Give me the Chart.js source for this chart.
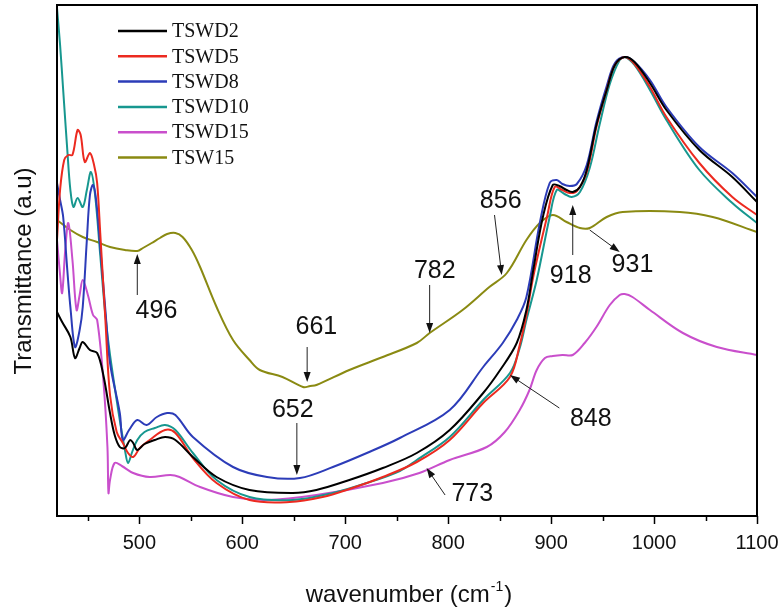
<!DOCTYPE html>
<html>
<head>
<meta charset="utf-8">
<script src="https://cdn.jsdelivr.net/npm/chart.js@4.4.0/dist/chart.umd.min.js"></script>
<style>
  html, body { margin: 0; padding: 0; background: #fff; }
</style>
</head>
<body>
<canvas id="ftir" width="783" height="610"></canvas>
<script>
// FTIR spectra, [wavenumber cm-1, transmittance a.u.]
const tswd2 = [[420,40.8],[425,38.8],[433,35.8],[437.5,31.6],[442,33.6],[445,34.8],[452,33.2],[459,32.6],[465,28.2],[471.5,20.6],[476,16.2],[481,13.8],[486,13.6],[491,15.2],[494,14.6],[498,13.2],[505,14.4],[515,15.2],[525,15.8],[535,15.2],[552,11.8],[575,7.8],[607,5.2],[649,4.6],[672,5.2],[704,7.2],[736.5,9.6],[769.5,12.6],[801.5,17.2],[834,24.6],[850.5,29.2],[866.6,34.6],[876,41.2],[883,49.6],[892,59.8],[901.6,66.2],[908,66],[915,65.2],[921,64.8],[928,65.8],[934.6,69.2],[944,78.2],[954,85.2],[962,90.2],[971.5,91.8],[981,90.8],[996,86.6],[1012,81.2],[1044,73.2],[1076,67.8],[1100,62.8]];
const tswd5 = [[420,55.2],[423,65.2],[427,71.2],[431,72.2],[435,72.2],[440,77.2],[443,76.2],[447,70.8],[452,72.6],[456,70.2],[459,66.6],[462,56.6],[467,39.2],[471.5,24.2],[478,16.8],[484,14.6],[489,12.6],[494,11.8],[500.5,13.6],[510,15.2],[525,17.2],[535,16.6],[552,11.6],[575,6.6],[607,3.2],[646,2.8],[678,3.8],[704,5.4],[736.5,7.8],[769.5,10.8],[801.5,15.2],[834,22.6],[860,27.8],[869.5,34.2],[876,40.2],[883,48.2],[896,59.8],[903.5,65.8],[911,65.2],[918,64.6],[925,65],[934.6,68.8],[944,77.8],[954,85.2],[962,90.2],[971.5,91.8],[981,90.4],[996,85.8],[1012,79.8],[1044,70.6],[1076,63.8],[1100,60.2]];
const tswd8 = [[420,66.6],[423,63.2],[426,59.8],[430,49.2],[433,41.8],[437.5,33.8],[442,37.2],[445,41.8],[449,55.2],[452,64.2],[455,66.2],[458,63.2],[462,53.8],[467,41.2],[471.5,30.6],[481,20.6],[484,15.2],[490,17.2],[498,19.2],[507,18.2],[517,19.8],[527,20.6],[535,20.2],[552,15.8],[591,9.8],[624,7.8],[656,7.6],[688,9.8],[721,12.6],[753,15.6],[801.5,21.2],[834,29.8],[853,34.6],[866.6,39.2],[876,43.8],[889,58.6],[898.6,66.6],[905.5,67.2],[911,66.4],[918,66],[925,66.4],[934.6,70.2],[944,78.8],[954,86],[962,90.6],[971.5,91.8],[981,90.8],[996,87.2],[1012,81.8],[1044,73.8],[1076,68.6],[1100,63.8]];
const tswd10 = [[420,101.6],[423,94.2],[426,85.2],[430,73.2],[433,65.2],[436,61.8],[440,63.6],[445,61.8],[449,65.2],[453,68.8],[457,64.2],[462,52.2],[467,40.2],[471.5,32.2],[481,19.2],[486,13.2],[489,10.6],[493,12.8],[498,15.2],[505,16.8],[515,17.6],[525,18.2],[535,17.2],[552,12.6],[575,7.2],[607,3.8],[649,3.2],[688,4.6],[721,6.6],[753,9],[769.5,11.2],[801.5,15.8],[834,23.2],[860,28.6],[869.5,33.6],[876,39.2],[886,47.2],[898.6,59.8],[905.5,65.2],[913,64.4],[920,63.8],[928,64.8],[937.5,69.6],[947,78.2],[957,86.4],[966.6,91.2],[971.5,91.8],[981,90.2],[996,85.2],[1012,79.2],[1044,69.2],[1076,62.6],[1100,58.6]];
const tswd15 = [[420,55.2],[423,48.2],[425,44.6],[428,53.2],[431,58.6],[435,51.2],[439,41.2],[442,44.2],[445,47.2],[450,44.2],[455,40.2],[459,39.2],[465,27.2],[469,13.8],[470,4.6],[471.5,7.2],[476,10.6],[483,10],[494,8.6],[510,7.8],[530,8.2],[539,7.8],[559,5.8],[591,3.8],[624,3.2],[672,4.2],[736.5,6.6],[772,8.6],[801.5,11.2],[837.5,13.8],[855,16.8],[869.5,21.2],[879,25.2],[886,29.2],[894,31.6],[901.6,32],[911,32.2],[921,32.2],[932.6,34.6],[944,37.8],[957,42.2],[966.6,44.2],[971.5,44.4],[979,43.8],[996,41.2],[1028,36.6],[1061,33.8],[1100,32.2]];
const tsw15 = [[420,59.2],[433,57.2],[445,55.8],[459,54.8],[471.5,53.8],[486,53.2],[498,53],[503.5,53.6],[512,54.6],[520,55.6],[527,56.4],[535,56.6],[542,55.8],[551,53.2],[559,49.8],[575,41.8],[591,35.2],[607,31.2],[617,29.2],[639,27.8],[659,25.8],[666,26],[672,26.2],[704,29.2],[736.5,31.8],[769.5,34.6],[782,36.6],[814,41.2],[840,45.8],[857,48.6],[876,55.2],[889,58.6],[901.6,60.2],[915,58.8],[928,57.6],[937.5,57.6],[954,59.8],[969.5,60.8],[1025,60.8],[1057,59.8],[1100,56.8]];

const seriesNames = ['TSWD2', 'TSWD5', 'TSWD8', 'TSWD10', 'TSWD15', 'TSW15'];
const seriesData = [tswd2, tswd5, tswd8, tswd10, tswd15, tsw15];
const seriesColors = ['#000000', '#ec2a20', '#2c3cb8', '#17978f', '#c94fcc', '#8a8a12'];

const xTicks = [450, 500, 550, 600, 650, 700, 750, 800, 850, 900, 950, 1000, 1050, 1100];

// band assignments: label, text centre, arrow tail -> arrow tip (data units)
const bandNotes = [
  { text: '496', at: [516.6, 40.9], from: [498, 44.2], to: [498, 52.4] },
  { text: '661', at: [672, 37.8], from: [663, 33.8], to: [663, 26.8] },
  { text: '652', at: [649, 21.2], from: [653, 18.6], to: [653, 8.2] },
  { text: '773', at: [823.4, 4.4], from: [797, 4.2], to: [779, 9.6] },
  { text: '782', at: [787, 49], from: [782, 46.2], to: [782, 36.6] },
  { text: '856', at: [851, 63], from: [845, 60.2], to: [852, 48.2] },
  { text: '918', at: [919, 48], from: [921, 52.2], to: [921, 62.2] },
  { text: '931', at: [979, 50.2], from: [937.5, 57.2], to: [966.6, 52.8] },
  { text: '848', at: [938.5, 19.4], from: [908, 21.6], to: [860, 28.2] }
];

const SANS = '"Liberation Sans", Arial, sans-serif';
const SERIF = '"Liberation Serif", "Times New Roman", serif';

function arrow(ctx, x1, y1, x2, y2) {
  const ang = Math.atan2(y2 - y1, x2 - x1);
  const len = 10, half = 3.5;
  ctx.beginPath();
  ctx.moveTo(x1, y1);
  ctx.lineTo(x2 - Math.cos(ang) * len * 0.8, y2 - Math.sin(ang) * len * 0.8);
  ctx.strokeStyle = '#222';
  ctx.lineWidth = 1;
  ctx.stroke();
  ctx.beginPath();
  ctx.moveTo(x2, y2);
  ctx.lineTo(x2 - Math.cos(ang) * len - Math.sin(ang) * half, y2 - Math.sin(ang) * len + Math.cos(ang) * half);
  ctx.lineTo(x2 - Math.cos(ang) * len + Math.sin(ang) * half, y2 - Math.sin(ang) * len - Math.cos(ang) * half);
  ctx.closePath();
  ctx.fillStyle = '#111';
  ctx.fill();
}

const decorPlugin = {
  id: 'decor',
  afterDatasetsDraw(chart) {
    const { ctx, scales: { x, y } } = chart;
    ctx.save();
    // annotations
    ctx.font = '25px ' + SANS;
    ctx.textAlign = 'center';
    ctx.textBaseline = 'middle';
    bandNotes.forEach(n => {
      arrow(ctx, x.getPixelForValue(n.from[0]), y.getPixelForValue(n.from[1]),
                 x.getPixelForValue(n.to[0]), y.getPixelForValue(n.to[1]));
      ctx.fillStyle = '#111';
      ctx.fillText(n.text, x.getPixelForValue(n.at[0]), y.getPixelForValue(n.at[1]));
    });

    // legend
    ctx.font = '20px ' + SERIF;
    ctx.textAlign = 'left';
    ctx.textBaseline = 'middle';
    chart.data.datasets.forEach((ds, i) => {
      const ry = 31 + i * 25.3;
      ctx.beginPath();
      ctx.moveTo(118, ry);
      ctx.lineTo(167, ry);
      ctx.strokeStyle = ds.borderColor;
      ctx.lineWidth = 2.5;
      ctx.stroke();
      ctx.fillStyle = '#111';
      ctx.fillText(ds.label, 172, ry + 1);
    });
    ctx.restore();
  },
  afterDraw(chart) {
    const { ctx, chartArea: a, scales: { x } } = chart;
    ctx.save();
    // frame
    ctx.strokeStyle = '#000';
    ctx.lineWidth = 2;
    ctx.strokeRect(a.left, a.top, a.right - a.left, a.bottom - a.top);
    // ticks on x axis (outward)
    ctx.lineWidth = 1.5;
    xTicks.forEach(v => {
      const px = Math.round(x.getPixelForValue(v)) + 0.5;
      const len = v % 100 === 0 ? 8 : 5;
      ctx.beginPath();
      ctx.moveTo(px, a.bottom);
      ctx.lineTo(px, a.bottom + len);
      ctx.stroke();
    });
    // x title with superscript
    ctx.fillStyle = '#111';
    ctx.textBaseline = 'alphabetic';
    ctx.textAlign = 'left';
    const main = 'wavenumber (cm', sup = '-1', close = ')';
    ctx.font = '24px ' + SANS;
    const w1 = ctx.measureText(main).width, w3 = ctx.measureText(close).width;
    ctx.font = '14px ' + SANS;
    const w2 = ctx.measureText(sup).width;
    let sx = 408 - (w1 + w2 + w3) / 2;
    const base = 602;
    ctx.font = '24px ' + SANS;
    ctx.fillText(main, sx, base);
    ctx.font = '14px ' + SANS;
    ctx.fillText(sup, sx + w1 + 1, base - 11);
    ctx.font = '24px ' + SANS;
    ctx.fillText(close, sx + w1 + w2 + 2, base);
    // y title
    ctx.translate(24, 271);
    ctx.rotate(-Math.PI / 2);
    ctx.textAlign = 'center';
    ctx.textBaseline = 'middle';
    ctx.font = '24px ' + SANS;
    ctx.fillText('Transmittance (a.u)', 0, 0);
    ctx.restore();
  }
};

new Chart(document.getElementById('ftir').getContext('2d'), {
  type: 'line',
  data: {
    datasets: seriesNames.map((name, i) => ({
      label: name,
      data: seriesData[i].map(p => ({ x: p[0], y: p[1] })),
      borderColor: seriesColors[i],
      borderWidth: 2,
      pointRadius: 0,
      fill: false,
      tension: 0.35
    }))
  },
  options: {
    responsive: false,
    animation: false,
    devicePixelRatio: 1,
    layout: { padding: { top: 5, right: 26, left: 0, bottom: 0 } },
    plugins: { legend: { display: false }, tooltip: { enabled: false } },
    scales: {
      x: {
        type: 'linear',
        min: 420,
        max: 1100,
        grid: { display: false },
        border: { display: false },
        ticks: {
          stepSize: 50,
          autoSkip: false,
          maxRotation: 0,
          padding: 7,
          color: '#111',
          font: { family: SANS, size: 20 },
          callback: v => (v % 100 === 0 ? v : '')
        },
        afterFit: s => { s.height = 94; s.paddingLeft = 0; s.paddingRight = 0; }
      },
      y: {
        min: 0,
        max: 102.2,
        grid: { display: false },
        border: { display: false },
        ticks: { display: false },
        afterFit: s => { s.width = 57; }
      }
    }
  },
  plugins: [decorPlugin]
});
</script>
</body>
</html>
